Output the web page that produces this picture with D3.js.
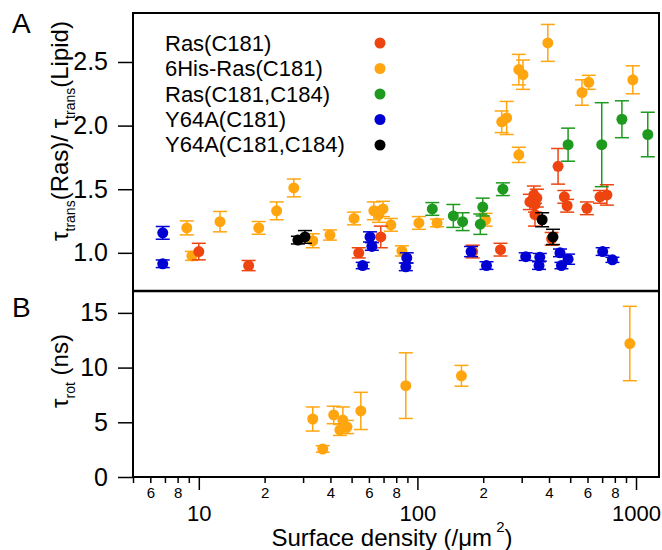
<!DOCTYPE html>
<html>
<head>
<meta charset="utf-8">
<script src="https://cdn.jsdelivr.net/npm/d3@7"></script>
<style>
body { margin: 0; background: #fff; }
text { font-family: "Liberation Sans", Arial, sans-serif; fill: #000; }
</style>
</head>
<body>
<div id="chart"></div>
<script>
// each point: [surface density (/um2), value, error]
var rasC181 = [[10.0,1.01,0.065],[16.9,0.90,0.04],[53.9,1.00,0.04],[68,1.125,0.085],[179,1.01,0.05],
  [240,1.025,0.05],[327,1.40,0.06],[341,1.455,0.07],[352,1.43,0.07],[345,1.38,0.06],[345,1.30,0.09],
  [411,1.11,0.05],[440,1.68,0.14],[470,1.44,0.05],[484,1.37,0.05],[596,1.35,0.05],[684,1.44,0.05],[736,1.455,0.08]];
var his6RasC181 = [[8.81,1.196,0.055],[9.3,0.976,0.035],[12.5,1.245,0.08],[18.8,1.196,0.05],[22.7,1.33,0.07],
  [27.2,1.51,0.07],[33.2,1.095,0.055],[39.8,1.14,0.04],[51.3,1.27,0.05],[63.2,1.33,0.07],[66.6,1.30,0.06],
  [69.6,1.345,0.06],[75.6,1.22,0.05],[84.9,1.015,0.04],[101.6,1.235,0.05],[123,1.235,0.03],[205,1.26,0.05],
  [243,2.03,0.085],[256,2.06,0.13],[291,1.77,0.06],[291,2.44,0.12],[304,2.40,0.115],[395,2.65,0.145],
  [566,2.26,0.1],[608,2.34,0.055],[967,2.36,0.11]];
var rasC181C184 = [[117,1.345,0.05],[146,1.29,0.09],[161,1.245,0.07],[199,1.36,0.07],[194,1.225,0.08],
  [246,1.50,0.05],[489,1.85,0.13],[697,1.85,0.33],[862,2.05,0.145],[1132,1.93,0.175]];
var y64aC181 = [[6.84,1.157,0.05],[6.84,0.914,0.03],[56.2,0.90,0.025],[60.7,1.125,0.04],[61.9,1.05,0.03],
  [89.4,0.96,0.04],[88.5,0.89,0.03],[176,1.01,0.04],[207,0.90,0.03],[313,0.97,0.03],[363,0.965,0.03],
  [360,0.90,0.03],[449,1.0,0.03],[489,0.95,0.04],[456,0.90,0.025],[704,1.01,0.03],[780,0.945,0.02]];
var y64aC181C184 = [[28.4,1.10,0.03],[30.6,1.125,0.05],[372,1.26,0.055],[417,1.125,0.06]];

// panel B, rotational correlation time (ns)
var tauRot = [[33.2,5.3,1.1],[36.9,2.56,0.3],[41.4,5.67,0.8],[45.6,5.2,1.2],[44.2,4.3,0.5],[47.6,4.57,0.6],
  [55.1,6.04,1.7],[88.5,8.35,3.0],[159,9.25,0.95],[937,12.2,3.4]];

var seriesNames = ["Ras(C181)", "6His-Ras(C181)", "Ras(C181,C184)", "Y64A(C181)", "Y64A(C181,C184)"];
var seriesColors = ["#ee4510", "#ffa510", "#1e9a1e", "#0000d2", "#000000"];
var seriesData = [rasC181, his6RasC181, rasC181C184, y64aC181, y64aC181C184];

var yTicksA = [1.0, 1.5, 2.0, 2.5];
var yTicksB = [0, 5, 10, 15];
var xMajor = [10, 100, 1000];
var xMinor = [5,6,7,8,9,20,30,40,50,60,70,80,90,200,300,400,500,600,700,800,900];
var xMinorLabelled = [6,8,20,40,60,80,200,400,600,800];

var W = 662, H = 550;
var left = 133, right = 659, topA = 13, midY = 291, botB = 477;

var svg = d3.select("#chart").append("svg")
  .attr("width", W).attr("height", H);

var x = d3.scaleLog().domain([5, 1274]).range([left, right]);
var yA = d3.scaleLinear().domain([0.70, 2.885]).range([midY, topA]);
var yB = d3.scaleLinear().domain([0, 17]).range([botB, midY]);

function drawPoints(g, data, color, yScale) {
  var pt = g.selectAll(null).data(data).enter().append("g");
  pt.append("line")
    .attr("x1", function(d){ return x(d[0]); }).attr("x2", function(d){ return x(d[0]); })
    .attr("y1", function(d){ return yScale(d[1] - d[2]); })
    .attr("y2", function(d){ return yScale(d[1] + d[2]); })
    .attr("stroke", color).attr("stroke-width", 1.5);
  [-1, 1].forEach(function(s){
    pt.append("line")
      .attr("x1", function(d){ return x(d[0]) - 7; }).attr("x2", function(d){ return x(d[0]) + 7; })
      .attr("y1", function(d){ return yScale(d[1] + s * d[2]); })
      .attr("y2", function(d){ return yScale(d[1] + s * d[2]); })
      .attr("stroke", color).attr("stroke-width", 1.5);
  });
  pt.append("circle")
    .attr("cx", function(d){ return x(d[0]); })
    .attr("cy", function(d){ return yScale(d[1]); })
    .attr("r", 5.5).attr("fill", color);
}

// panel A points
[1, 0, 2, 3, 4].forEach(function(i){
  drawPoints(svg.append("g"), seriesData[i], seriesColors[i], yA);
});
// panel B points
drawPoints(svg.append("g"), tauRot, seriesColors[1], yB);

// legend
var leg = svg.append("g");
seriesNames.forEach(function(n, i){
  leg.append("text").attr("x", 165).attr("y", 51 + i * 25.3)
    .attr("font-size", 22).text(n);
  leg.append("circle").attr("cx", 380).attr("cy", 43 + i * 25.5)
    .attr("r", 5.5).attr("fill", seriesColors[i]);
});

// frames
svg.append("rect").attr("x", left).attr("y", topA)
  .attr("width", right - left).attr("height", botB - topA)
  .attr("fill", "none").attr("stroke", "#000").attr("stroke-width", 2);
svg.append("line").attr("x1", left).attr("x2", right).attr("y1", midY).attr("y2", midY)
  .attr("stroke", "#000").attr("stroke-width", 2.5);

// y axes
var axA = svg.append("g").attr("transform", "translate(" + left + ",0)")
  .call(d3.axisLeft(yA).tickValues(yTicksA).tickSize(15).tickPadding(10).tickFormat(d3.format(".1f")));
var axB = svg.append("g").attr("transform", "translate(" + left + ",0)")
  .call(d3.axisLeft(yB).tickValues(yTicksB).tickSize(15).tickPadding(10).tickFormat(d3.format("d")));
[axA, axB].forEach(function(a){
  a.select(".domain").remove();
  a.selectAll(".tick line").attr("stroke-width", 1.5);
  a.selectAll("text").attr("font-size", 25).attr("font-family", null);
});

// x axis: minor ticks with small labels, decades with big labels
var axMinor = svg.append("g").attr("transform", "translate(0," + botB + ")")
  .call(d3.axisBottom(x).tickValues(xMinor).tickSize(6).tickPadding(4.5)
    .tickFormat(function(d){ return xMinorLabelled.indexOf(d) >= 0 ? String(d)[0] : ""; }));
var axMajor = svg.append("g").attr("transform", "translate(0," + botB + ")")
  .call(d3.axisBottom(x).tickValues(xMajor).tickSize(13).tickPadding(15.5).tickFormat(d3.format("d")));
axMinor.select(".domain").remove();
axMajor.select(".domain").remove();
axMinor.selectAll("text").attr("font-size", 15).attr("font-family", null);
axMajor.selectAll("text").attr("font-size", 22).attr("font-family", null);
svg.selectAll(".tick line").attr("stroke-width", 1.5);

// axis titles
var tA = svg.append("text").attr("transform", "translate(68,131) rotate(-90)")
  .attr("text-anchor", "middle").attr("font-size", 24);
tA.append("tspan").text("\u03c4");
tA.append("tspan").attr("font-size", 14).attr("dy", 7).text("trans");
tA.append("tspan").attr("dy", -7).text("(Ras)/ \u03c4");
tA.append("tspan").attr("font-size", 14).attr("dy", 7).text("trans");
tA.append("tspan").attr("dy", -7).text("(Lipid)");

var tB = svg.append("text").attr("transform", "translate(68,371) rotate(-90)")
  .attr("text-anchor", "middle").attr("font-size", 24);
tB.append("tspan").text("\u03c4");
tB.append("tspan").attr("font-size", 14).attr("dy", 7).text("rot");
tB.append("tspan").attr("dy", -7).text(" (ns)");

var tX = svg.append("text").attr("x", 392).attr("y", 546)
  .attr("text-anchor", "middle").attr("font-size", 24);
tX.append("tspan").text("Surface density (/\u03bcm");
tX.append("tspan").attr("font-size", 15).attr("dy", -14).text(" 2");
tX.append("tspan").attr("dy", 14).text(")");

// panel letters
svg.append("text").attr("x", 12).attr("y", 33).attr("font-size", 28).text("A");
svg.append("text").attr("x", 12).attr("y", 317).attr("font-size", 28).text("B");
</script>
</body>
</html>
